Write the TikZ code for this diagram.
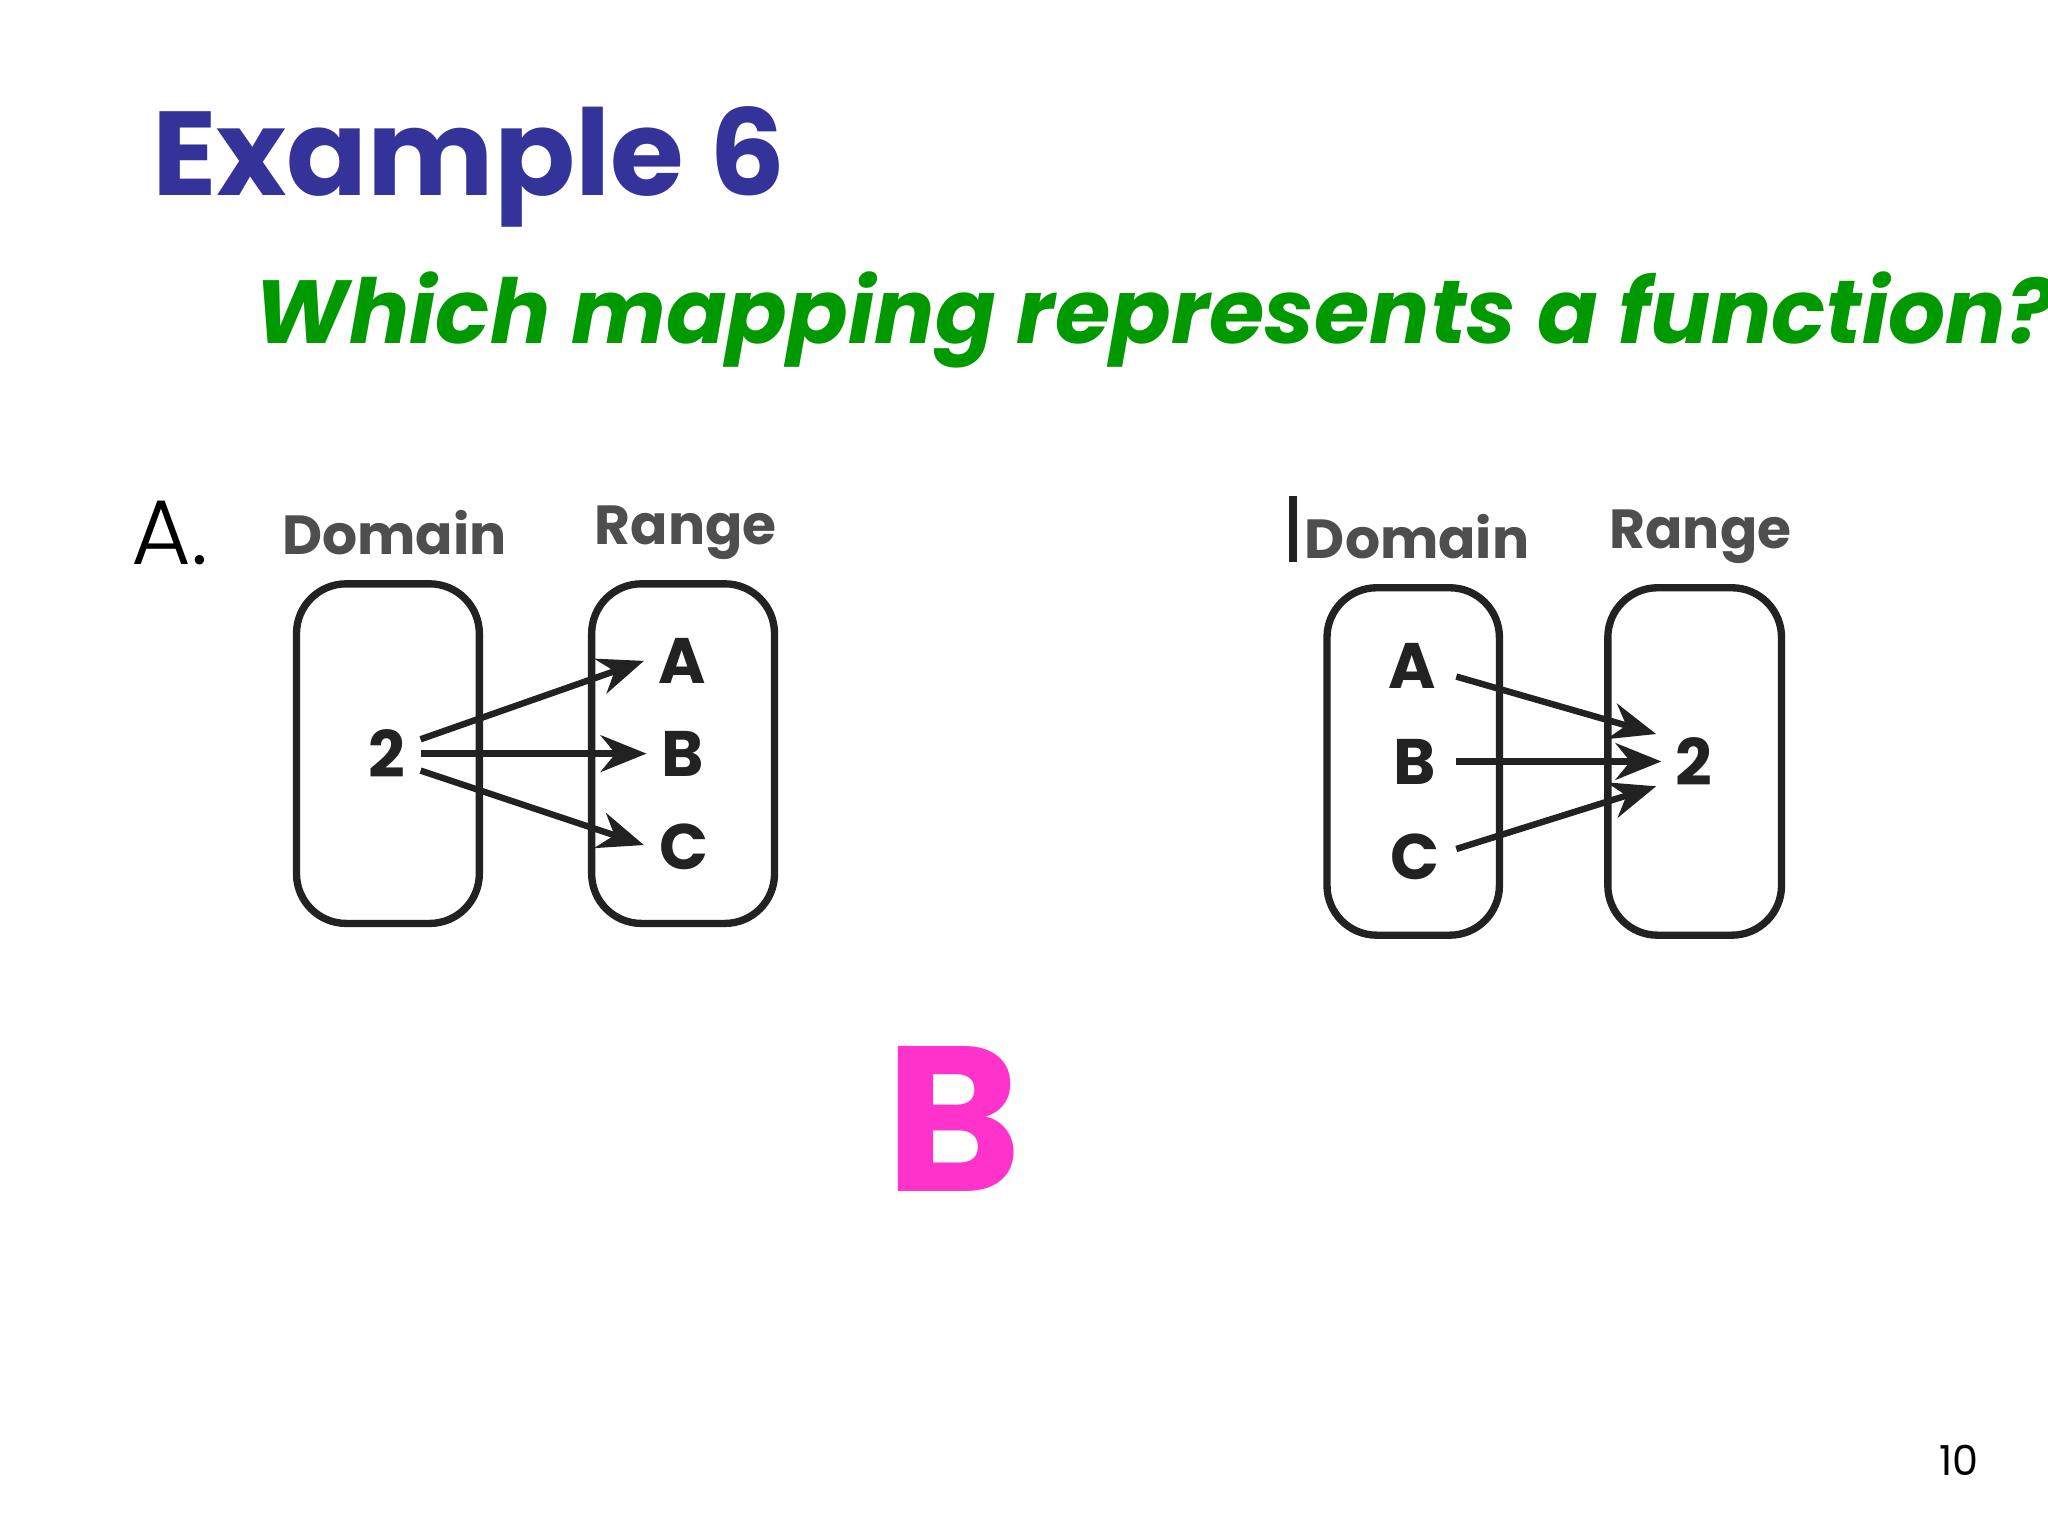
\documentclass[tikz,border=0pt]{standalone}
\usepackage{fontspec}
\setmainfont{Poppins}
\newfontfamily\lightf{Poppins Light}
\usetikzlibrary{arrows.meta}
\definecolor{titleblue}{HTML}{333399}
\definecolor{qgreen}{HTML}{009900}
\definecolor{mag}{HTML}{FF33CC}
\definecolor{ink}{HTML}{222222}
\tikzset{x=0.01cm,y=-0.01cm,
 setbox/.style={draw=ink,line width=1.6pt,rounded corners=0.38cm},
 lbl/.style={font=\fontsize{12}{14}\selectfont\bfseries,text=ink!80},
 elem/.style={font=\fontsize{14}{16}\selectfont\bfseries,text=ink},
 maparrow/.style={draw=ink,line width=1.4pt,-{Stealth[length=10pt,width=8pt]}}}
\begin{document}
\begin{tikzpicture}
\useasboundingbox (0,0) rectangle (1568,1176);
\node[font=\fontsize{26}{30}\selectfont\bfseries,text=titleblue,anchor=west] (title) at (104,128) {Example 6};
\node[font=\fontsize{19.5}{22}\selectfont\bfseries\itshape,text=qgreen] (q) at (884,245) {Which mapping represents a function?};
\node[font=\fontsize{20}{22}\selectfont\lightf] (optA) at (130,408) {A.};
% left diagram
\node[lbl] (d1) at (302,408) {Domain};
\node[lbl] (r1) at (525,408) {Range};
\draw[setbox] (227,447) rectangle (367,707);
\draw[setbox] (453,447) rectangle (593,707);
\node[elem] (two1) at (296,577) {2};
\node[elem] (a1) at (522,506) {A};
\node[elem] (b1) at (523,577) {B};
\node[elem] (c1) at (524,648) {C};
\coordinate (s1) at (322,566); \coordinate (s2) at (322,577); \coordinate (s3) at (322,590);
\coordinate (e1) at (493,506); \coordinate (e2) at (495,577); \coordinate (e3) at (493,647);
\draw[maparrow] (s1) -- (e1);
\draw[maparrow] (s2) -- (e2);
\draw[maparrow] (s3) -- (e3);
% right diagram
\draw[ink,line width=1.6pt] (990,380) -- (990,430);
\node[lbl] (d2) at (1085,411) {Domain};
\node[lbl] (r2) at (1302,411) {Range};
\draw[setbox] (1016,450) rectangle (1148,716);
\draw[setbox] (1231,450) rectangle (1364,716);
\node[elem] (a2) at (1081,510) {A};
\node[elem] (b2) at (1083,583) {B};
\node[elem] (c2) at (1083,656) {C};
\node[elem] (two2) at (1297,583) {2};
\coordinate (t1) at (1115,518); \coordinate (t2) at (1115,583); \coordinate (t3) at (1115,650);
\coordinate (f1) at (1268,562); \coordinate (f2) at (1272,583); \coordinate (f3) at (1268,602);
\draw[maparrow] (t1) -- (f1);
\draw[maparrow] (t2) -- (f2);
\draw[maparrow] (t3) -- (f3);
\node[font=\fontsize{45}{50}\selectfont\bfseries,text=mag] (ans) at (730,857) {B};
\node[font=\fontsize{9}{11}\selectfont] (pg) at (1500,1118) {10};
\end{tikzpicture}
\end{document}
